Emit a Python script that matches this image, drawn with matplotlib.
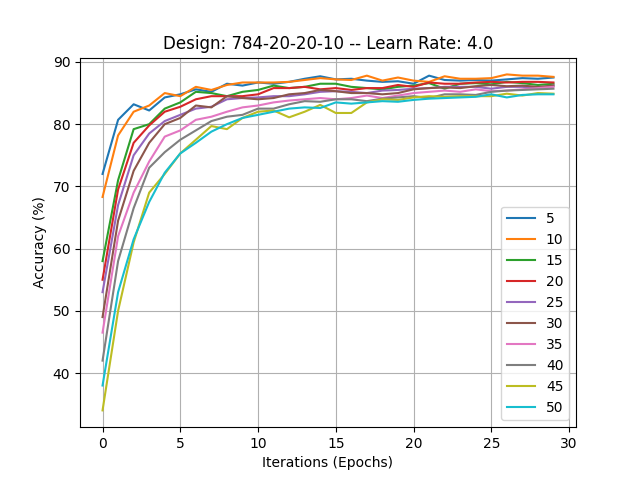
import matplotlib
matplotlib.use("Agg")
import matplotlib.pyplot as plt

epochs = list(range(30))
labels = ["5", "10", "15", "20", "25", "30", "35", "40", "45", "50"]

acc_5 = [72, 80.7, 83.2, 82.2, 84.3, 84.8, 85.6, 85.2, 86.5, 86.2, 86.7, 86.5, 86.8, 87.3, 87.7, 87.2, 87.3, 87.0, 86.8, 86.9, 86.5, 87.8, 87.1, 87.0, 87.1, 87.0, 87.2, 87.4, 87.3, 87.5]
acc_10 = [68.3, 78.2, 82.0, 83.0, 85.0, 84.5, 86.0, 85.5, 86.3, 86.7, 86.7, 86.7, 86.8, 87.1, 87.4, 87.2, 87.1, 87.8, 87.0, 87.5, 87.0, 86.8, 87.7, 87.3, 87.3, 87.4, 88.0, 87.8, 87.8, 87.6]
acc_15 = [58, 71, 79.2, 80.0, 82.5, 83.5, 85.2, 85.0, 84.5, 85.2, 85.5, 86.2, 85.8, 86.0, 86.5, 86.5, 86.0, 85.8, 85.6, 86.0, 86.2, 86.6, 85.7, 86.5, 86.6, 86.4, 86.8, 86.6, 86.3, 86.5]
acc_20 = [55, 69.5, 77, 79.8, 82, 82.8, 84, 84.5, 84.5, 84.5, 84.8, 85.8, 85.8, 86.0, 85.6, 85.8, 85.5, 85.8, 85.8, 86.3, 86.0, 86.7, 86.5, 86.5, 86.7, 86.8, 86.7, 86.8, 86.8, 86.7]
acc_25 = [53, 67, 75, 78.5, 80.5, 81.5, 82.5, 82.8, 84, 84.2, 84.3, 84.5, 84.5, 84.8, 85.2, 85.3, 85.2, 85.0, 85.4, 85.5, 85.7, 85.8, 86.0, 86.0, 86.0, 85.7, 86.0, 86.0, 85.8, 86.2]
acc_30 = [49, 64.5, 72.5, 77, 80, 81, 83, 82.7, 84.5, 84.2, 84.0, 84.2, 84.8, 85.0, 85.5, 85.3, 85.0, 85.0, 84.8, 85.0, 85.6, 85.8, 85.9, 85.8, 86.1, 86.3, 86.1, 86.2, 86.0, 86.2]
acc_35 = [46.5, 62, 69, 74, 78, 79, 80.7, 81.2, 82, 82.7, 83.0, 83.5, 83.8, 84.0, 84.2, 84.0, 84.2, 84.6, 84.2, 84.6, 85.0, 85.2, 85.4, 85.2, 85.6, 85.3, 85.4, 85.6, 85.8, 86.0]
acc_40 = [42, 58, 66.5, 73, 75.5, 77.5, 79, 80.5, 81.2, 81.5, 82.5, 82.5, 83.2, 83.7, 83.6, 84.0, 84.0, 83.7, 84.1, 84.3, 84.5, 84.2, 84.8, 84.8, 84.7, 85.2, 85.4, 85.5, 85.6, 85.7]
acc_45 = [34, 50, 61, 69, 72, 75.3, 77.5, 79.7, 79.2, 81, 82.0, 82.2, 81.1, 82.0, 83.1, 81.8, 81.8, 83.5, 84.0, 83.9, 84.3, 84.5, 84.4, 84.5, 84.5, 84.5, 84.9, 84.6, 85.0, 84.9]
acc_50 = [38, 53, 61.5, 67.5, 72.2, 75.3, 77.0, 78.8, 80.0, 81.0, 81.5, 82.0, 82.5, 82.7, 82.6, 83.5, 83.3, 83.5, 83.7, 83.6, 83.9, 84.1, 84.2, 84.3, 84.4, 84.8, 84.3, 84.7, 84.8, 84.8]

series = [acc_5, acc_10, acc_15, acc_20, acc_25, acc_30, acc_35, acc_40, acc_45, acc_50]

fig = plt.figure(figsize=(6.4, 4.8), dpi=100)
for lab, ys in zip(labels, series):
    plt.plot(epochs, ys, label=lab)
plt.title("Design: 784-20-20-10 -- Learn Rate: 4.0")
plt.xlabel("Iterations (Epochs)")
plt.ylabel("Accuracy (%)")
plt.grid(True)
plt.legend(loc="lower right")
plt.savefig("out.png")
